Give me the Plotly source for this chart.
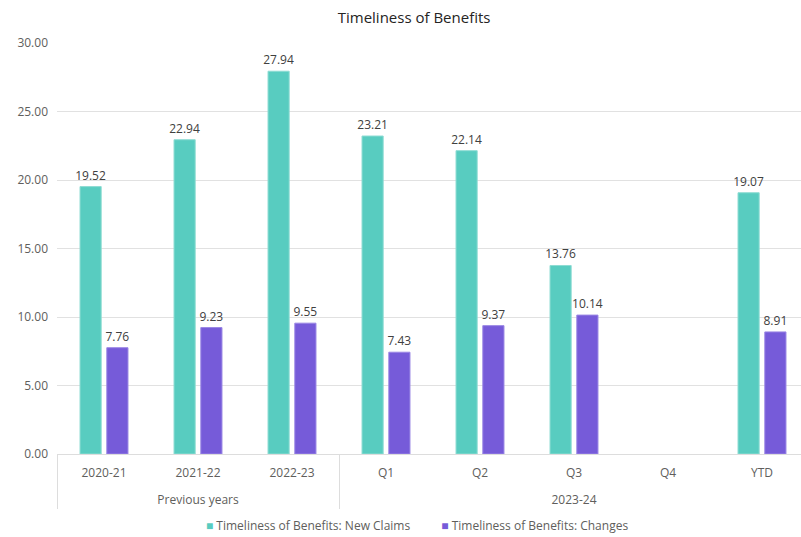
import plotly.graph_objects as go

# Category hierarchy for the x axis
groups = ["Previous years"] * 3 + ["2023-24"] * 5
periods = ["2020-21", "2021-22", "2022-23", "Q1", "Q2", "Q3", "Q4", "YTD"]

# Average processing times (days)
new_claims = [19.52, 22.94, 27.94, 23.21, 22.14, 13.76, None, 19.07]
changes = [7.76, 9.23, 9.55, 7.43, 9.37, 10.14, None, 8.91]

y_ticks = [0, 5, 10, 15, 20, 25, 30]

TEAL = "#58CCC0"
PURPLE = "#765BD9"
TEXT = "#605E5C"
LABEL = "#404040"
FONT = "Open Sans, Noto Sans, sans-serif"

series = [
    ("Timeliness of Benefits: New Claims", new_claims, TEAL, "#8EDCD3"),
    ("Timeliness of Benefits: Changes", changes, PURPLE, "#9A86E4"),
]

# Leading line break drops the group row a little below the period row
group_labels = ["<br>" + g for g in groups]

fig = go.Figure()
for name, vals, col, edge in series:
    fig.add_trace(go.Bar(
        x=[group_labels, periods], y=vals, name=name,
        marker=dict(color=col, line=dict(color=edge, width=1)),
        texttemplate="%{y:.2f}", textposition="outside",
        constraintext="none",
        textfont=dict(color=LABEL, size=12), cliponaxis=False,
        showlegend=False,
    ))

# Compact legend line: coloured square right next to each series name
legend_text = "&nbsp;" * 10
legend_text = legend_text.join(
    f"<span style='color:{col}'>■</span> {name}" for name, _, col, _ in series
)
fig.add_annotation(
    text=legend_text, xref="paper", yref="paper",
    x=0.484, y=-0.175, xanchor="center", yanchor="middle",
    showarrow=False, font=dict(size=12, color=TEXT, family=FONT),
)

fig.update_layout(
    width=801, height=537,
    margin=dict(l=57, r=0, t=43, b=83),
    paper_bgcolor="white", plot_bgcolor="white",
    font=dict(family=FONT, color=TEXT, size=12),
    title=dict(text="Timeliness of Benefits", x=0.517, xanchor="center",
               y=0.967, yanchor="middle",
               font=dict(size=15, color="#252423", family=FONT)),
    barmode="group", bargap=0.43, bargroupgap=0.21,
    showlegend=False,
)

fig.update_xaxes(
    type="multicategory", range=[-0.5, 7.415],
    showline=True, linecolor="#DDDDDD", linewidth=1,
    showdividers=True, dividercolor="#DDDDDD", dividerwidth=1,
    tickfont=dict(size=12, color=TEXT), showgrid=False,
    ticklabelstandoff=8,
)
fig.update_yaxes(
    range=[0, 30], tickvals=y_ticks, tickformat=".2f",
    showgrid=True, gridcolor="#E1E1E1", gridwidth=1,
    zeroline=False, showline=False,
    tickfont=dict(size=12, color=TEXT), ticklabelstandoff=8,
)

fig.write_html("out.html")
